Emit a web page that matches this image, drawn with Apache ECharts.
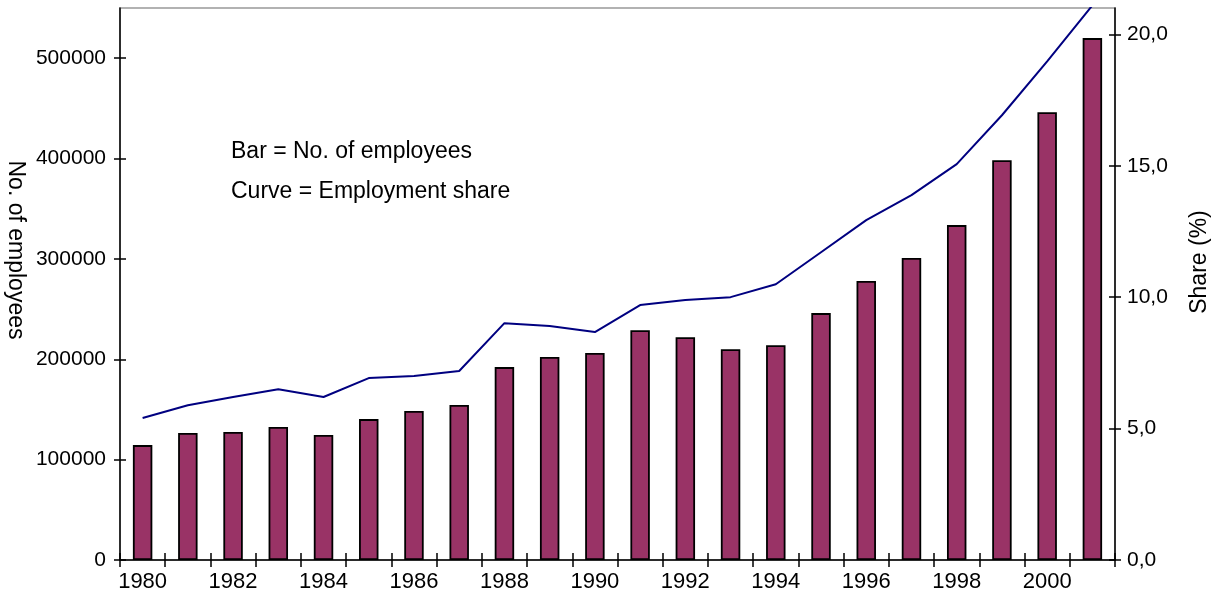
<!DOCTYPE html>
<html>
<head>
<meta charset="utf-8">
<script src="https://cdn.jsdelivr.net/npm/echarts@6/dist/echarts.min.js"></script>
<style>
  html, body {margin: 0; padding: 0; background: #fff;}
  #chart {width: 1223px; height: 609px;}
</style>
</head>
<body>
<div id="chart"></div>
<script>
const years = ['1980', '1981', '1982', '1983', '1984', '1985', '1986', '1987', '1988', '1989', '1990',
  '1991', '1992', '1993', '1994', '1995', '1996', '1997', '1998', '1999', '2000', '2001'];
const employees = [114500, 126500, 127500, 132500, 124500, 140400, 148400, 154400, 192200, 202200, 206200,
  229000, 222000, 210000, 214000, 246000, 278000, 301000, 333700, 398400, 446200, 520000];
const share = [5.4, 5.89, 6.2, 6.5, 6.2, 6.92, 7.0, 7.19, 9.01, 8.9, 8.67,
  9.7, 9.89, 10.0, 10.49, 11.71, 12.93, 13.88, 15.06, 16.92, 18.97, 21.1];
const leftTicks = [0, 100000, 200000, 300000, 400000, 500000];
const rightTicks = [0, 5, 10, 15, 20];
const noteLines = ['Bar = No. of employees', 'Curve = Employment share'];

const font = 'Liberation Sans, Arial, sans-serif';
const chart = echarts.init(document.getElementById('chart'));

const tickStyle = {color: '#000', width: 1.5};

// hidden copy of an axis that only draws the inner half of the ticks
function innerTicks(base) {
  return Object.assign({}, base, {
    axisLine: {show: false},
    axisLabel: {show: false, customValues: base.axisLabel.customValues},
    axisTick: Object.assign({}, base.axisTick, {inside: true}),
    splitLine: {show: false},
  });
}

const xMain = {
  type: 'category',
  data: years,
  boundaryGap: true,
  position: 'bottom',
  axisLine: {lineStyle: {color: '#000', width: 1.5}},
  axisTick: {show: true, length: 7, lineStyle: tickStyle},
  axisLabel: {
    color: '#000',
    fontSize: 22,
    fontFamily: font,
    margin: 11,
    interval: 0,
    formatter: (v, i) => (i % 2 === 0 ? v : ''),
  },
  splitLine: {show: false},
};
const yLeft = {
  type: 'value',
  min: 0,
  max: 550000,
  position: 'left',
  axisLine: {show: true, lineStyle: {color: '#000', width: 1.5}},
  axisTick: {show: true, length: 6, lineStyle: tickStyle, customValues: leftTicks},
  axisLabel: {
    color: '#000',
    fontSize: 21,
    fontFamily: font,
    margin: 14,
    customValues: leftTicks,
    formatter: (v) => String(v),
  },
  splitLine: {show: false},
};
const yRight = {
  type: 'value',
  min: 0,
  max: 21,
  position: 'right',
  axisLine: {show: true, lineStyle: {color: '#000', width: 1.5}},
  axisTick: {show: true, length: 6, lineStyle: tickStyle, customValues: rightTicks},
  axisLabel: {
    color: '#000',
    fontSize: 21,
    fontFamily: font,
    margin: 12,
    customValues: rightTicks,
    formatter: (v) => Number(v).toFixed(1).replace('.', ','),
  },
  splitLine: {show: false},
};

const option = {
  animation: false,
  textStyle: {fontFamily: font},
  grid: {left: 120, right: 108, top: 8, bottom: 49, show: true, borderColor: '#999', borderWidth: 1.5},
  xAxis: [
    xMain,
    Object.assign(innerTicks(xMain), {position: 'bottom'}),
  ],
  yAxis: [
    yLeft,
    yRight,
    Object.assign(innerTicks(yLeft), {position: 'left'}),
    Object.assign(innerTicks(yRight), {position: 'right'}),
  ],
  graphic: [
    {
      type: 'text',
      left: 231,
      top: 140,
      style: {text: noteLines[0], fontSize: 23, fontFamily: font, fill: '#000'},
    },
    {
      type: 'text',
      left: 231,
      top: 180,
      style: {text: noteLines[1], fontSize: 23, fontFamily: font, fill: '#000'},
    },
    {
      type: 'text',
      x: 15,
      y: 250,
      rotation: -Math.PI / 2,
      style: {
        text: 'No. of employees', fontSize: 23, fontFamily: font, fill: '#000',
        align: 'center', verticalAlign: 'middle',
      },
    },
    {
      type: 'text',
      x: 1200,
      y: 262,
      rotation: Math.PI / 2,
      style: {
        text: 'Share (%)', fontSize: 23, fontFamily: font, fill: '#000',
        align: 'center', verticalAlign: 'middle',
      },
    },
  ],
  series: [
    {
      name: 'No. of employees',
      type: 'bar',
      data: employees,
      barWidth: '43%',
      itemStyle: {color: '#993366', borderColor: '#000', borderWidth: 1.8},
      z: 2,
    },
    {
      name: 'Share',
      type: 'line',
      yAxisIndex: 1,
      data: share,
      symbol: 'none',
      clip: true,
      lineStyle: {color: '#000080', width: 2},
      z: 3,
    },
  ],
};
chart.setOption(option);
</script>
</body>
</html>
